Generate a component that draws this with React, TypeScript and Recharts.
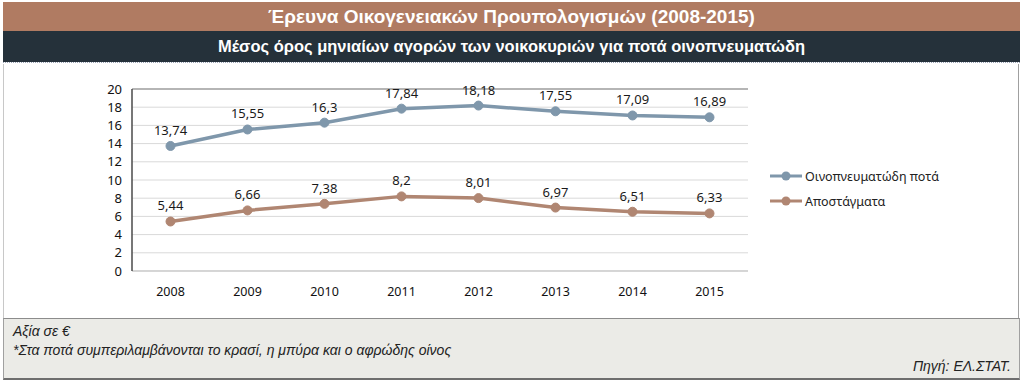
import { LineChart, Line, XAxis, YAxis, CartesianGrid, LabelList, ReferenceLine } from 'recharts'

const YEARS = ['2008', '2009', '2010', '2011', '2012', '2013', '2014', '2015']
const SPIRITS_ALL = [13.74, 15.55, 16.3, 17.84, 18.18, 17.55, 17.09, 16.89]
const DISTILLED = [5.44, 6.66, 7.38, 8.2, 8.01, 6.97, 6.51, 6.33]
const Y_TICKS = [0, 2, 4, 6, 8, 10, 12, 14, 16, 18, 20]

const SERIES = [
  { key: 'all', name: 'Οινοπνευματώδη ποτά', color: '#7f97ab' },
  { key: 'dist', name: 'Αποστάγματα', color: '#b08672' },
]

const data = YEARS.map((year, i) => ({ year, all: SPIRITS_ALL[i], dist: DISTILLED[i] }))

const fmt = (v: number) => String(v).replace('.', ',')
const FONT = '"Noto Sans", Tahoma, sans-serif'
const NARROW = '"Liberation Sans Narrow", "Liberation Sans", sans-serif'

export default function App() {
  return (
    <div style={{ position: 'absolute', left: 0, top: 0, width: 1024, height: 383, background: '#fff', fontFamily: FONT }}>
      <div style={{ position: 'absolute', left: 3, top: 2, width: 1017, height: 29, background: '#b07b62', color: '#fff', textAlign: 'center', fontFamily: NARROW, fontWeight: 'bold', fontSize: 19, lineHeight: '29px' }}>
        Έρευνα Οικογενειακών Προυπολογισμών (2008-2015)
      </div>
      <div style={{ position: 'absolute', left: 3, top: 31, width: 1017, height: 31, background: '#25313a', color: '#fff', textAlign: 'center', fontFamily: NARROW, fontWeight: 'bold', fontSize: 16.5, lineHeight: '31px' }}>
        Μέσος όρος μηνιαίων αγορών των νοικοκυριών για ποτά οινοπνευματώδη
      </div>
      <div style={{ position: 'absolute', left: 3, top: 62, width: 1017, height: 0, borderTop: '1px dotted #9aa3b5' }} />
      <div style={{ position: 'absolute', left: 3, top: 64, width: 1016, height: 254, borderLeft: '1px solid #c8c8c8', borderRight: '1px solid #a0a0a0', boxSizing: 'border-box' }} />
      <div style={{ position: 'absolute', left: 0, top: 64 }}>
        <LineChart width={1024} height={254} data={data} margin={{ top: 25, right: 276, bottom: 17, left: 100 }}>
          <CartesianGrid vertical={false} stroke="#d9d9d9" />
          <XAxis dataKey="year" scale="band" height={30} axisLine={{ stroke: '#bfbfbf' }} tickLine={false}
            tick={{ fontSize: 12.5, fill: '#111', fontFamily: FONT }} tickMargin={10} />
          <YAxis domain={[0, 20]} ticks={Y_TICKS} width={32} interval={0} axisLine={{ stroke: '#4a4a4a', strokeWidth: 1.5 }} tickLine={false}
            tick={{ fontSize: 13, fill: '#111', fontFamily: FONT }} tickMargin={4} />
          <YAxis yAxisId="r" orientation="right" width={0} tick={false} tickLine={false} axisLine={{ stroke: '#8c8c8c' }} />
          <ReferenceLine y={20} stroke="#7f7f7f" />
          {SERIES.map((s) => (
            <Line key={s.key} dataKey={s.key} name={s.name} stroke={s.color} strokeWidth={3.5}
              dot={{ r: 4.5, fill: s.color, stroke: s.color, strokeWidth: 1 }} isAnimationActive={false}>
              <LabelList dataKey={s.key} position="top" offset={11} formatter={(v: number) => fmt(v)}
                style={{ fontSize: 13, fill: '#1a1a1a', fontFamily: FONT }} />
            </Line>
          ))}
        </LineChart>
      </div>
      {SERIES.map((s, i) => (
        <div key={s.key} style={{ position: 'absolute', left: 770, top: 168 + i * 25, height: 16, display: 'flex', alignItems: 'center', fontSize: 12.5, color: '#222' }}>
          <svg width={32} height={16} style={{ marginRight: 3 }}>
            <line x1={0} y1={8} x2={32} y2={8} stroke={s.color} strokeWidth={3} />
            <circle cx={16} cy={8} r={4.5} fill={s.color} />
          </svg>
          {s.name}
        </div>
      ))}
      <div style={{ position: 'absolute', left: 3, top: 318, width: 1017, height: 62, background: '#ebebe7', borderTop: '1px solid #8c8c8c', borderBottom: '2px solid #6e6e6e', borderLeft: '1px solid #a0a0a0', borderRight: '1px solid #a0a0a0', boxSizing: 'border-box', fontFamily: NARROW, fontStyle: 'italic', fontSize: 14, color: '#222' }}>
        <div style={{ position: 'absolute', left: 9, top: 4 }}>Αξία σε €</div>
        <div style={{ position: 'absolute', left: 9, top: 23 }}>*Στα ποτά συμπεριλαμβάνονται το κρασί, η μπύρα και ο αφρώδης οίνος</div>
        <div style={{ position: 'absolute', right: 8, top: 39 }}>Πηγή: ΕΛ.ΣΤΑΤ.</div>
      </div>
    </div>
  )
}
